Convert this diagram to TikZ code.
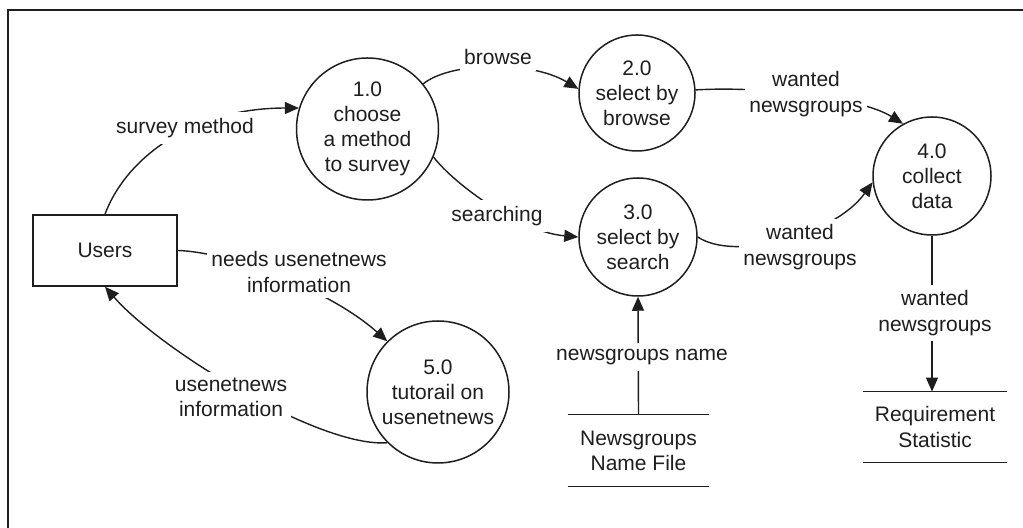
\documentclass[tikz,border=0pt]{standalone}
\usepackage{fontspec}
\setmainfont{Liberation Sans}
\usetikzlibrary{arrows.meta}
\definecolor{ink}{RGB}{30,30,30}
\begin{document}
\begin{tikzpicture}[x=0.5pt,y=-0.5pt,
  every node/.style={font=\fontsize{10.5pt}{12.6pt}\selectfont, align=center, inner sep=0pt, text=ink},
  proc/.style={circle, draw=ink, line width=0.75pt},
  entity/.style={rectangle, draw=ink, line width=0.75pt, minimum width=72pt, minimum height=35.5pt},
  store/.style={minimum height=35.5pt},
  storeline/.style={draw=ink, line width=0.75pt},
  lbl/.style={fill=white, inner xsep=2pt, inner ysep=3pt},
  dfline/.style={draw=ink, line width=0.7pt},
  dfarrow/.style={dfline, -{Triangle[length=7pt,width=6pt]}}
]
\useasboundingbox (0,0) rectangle (1023,528);
\fill[white] (0,0) rectangle (1023,528);
\draw[ink, line width=1.2pt] (8,528) -- (8,10) -- (1023,10);

% processes
\node[proc, minimum size=71pt] (c1) at (367.5,129) {1.0\\choose\\a method\\to survey};
\node[proc, minimum size=58pt] (c2) at (637,93) {2.0\\select by\\browse};
\node[proc, minimum size=59pt] (c3) at (638,237) {3.0\\select by\\search};
\node[proc, minimum size=59pt] (c4) at (932,176) {4.0\\collect\\data};
\node[proc, minimum size=71pt] (c5) at (438,392) {5.0\\tutorail on\\usenetnews};

% external entity
\node[entity] (users) at (105,250.5) {Users};

% data stores
\node[store, minimum width=70.5pt] (ngf) at (638.5,450.5) {Newsgroups\\Name File};
\node[store, minimum width=72pt, minimum height=35pt] (rs) at (935,427) {Requirement\\Statistic};
\draw[storeline] (ngf.north west) -- (ngf.north east) (ngf.south west) -- (ngf.south east);
\draw[storeline] (rs.north west) -- (rs.north east) (rs.south west) -- (rs.south east);

% data flows
\draw[dfarrow] (users.north) .. controls (125,160) and (190,108) .. (c1.163);
\draw[dfarrow] (c1.39) .. controls (450,62) and (530,60) .. (c2.176);
\draw[dfarrow] (c1.-23) .. controls (455,185) and (520,232) .. (c3.180);
\draw[dfarrow] (c2.3) .. controls (760,86) and (860,97) .. (c4.119);
\draw[dfarrow] (c3.0) .. controls (735,262) and (835,235) .. (c4.186);
\draw[dfarrow] (c4.south) -- (c4.south |- rs.north);
\draw[dfarrow] (ngf.north) -- (c3.south);
\draw[dfarrow] (users.east) .. controls (230,252) and (330,290) .. (c5.135);
\draw[dfarrow] (c5.225) .. controls (320,448) and (160,350) .. (users.south);

% flow labels
\node[lbl] (lsm) at (185,128) {survey method};
\node[lbl] (lbr) at (498,57) {browse};
\node[lbl] (lse) at (497,216) {searching};
\node[lbl] (lw1) at (806,94) {wanted\\newsgroups};
\node[lbl] (lw2) at (800,247) {wanted\\newsgroups};
\node[lbl] (lw3) at (935,313) {wanted\\newsgroups};
\node[lbl] (lnn) at (642,357) {newsgroups name};
\node[lbl] (lnu) at (299,272) {needs usenetnews\\information};
\node[lbl] (lui) at (231,397) {usenetnews\\information};
\end{tikzpicture}
\end{document}
